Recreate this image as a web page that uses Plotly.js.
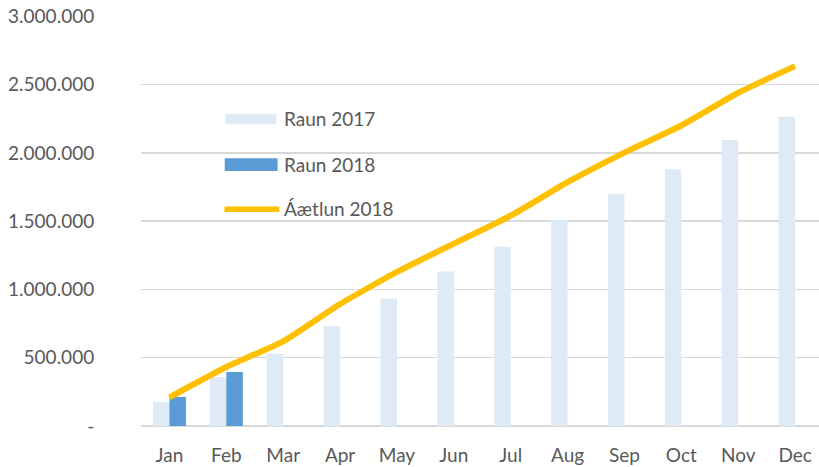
<!DOCTYPE html>
<html>
<head>
<meta charset="utf-8">
<script src="https://cdn.plot.ly/plotly-3.0.1.min.js"></script>
<style>html,body{margin:0;padding:0;background:#fff;}#chart{width:819px;height:467px;}</style>
</head>
<body>
<div id="chart"></div>
<script>
const months = ["Jan","Feb","Mar","Apr","May","Jun","Jul","Aug","Sep","Oct","Nov","Dec"];
const raun2017 = [176000, 358000, 529000, 730000, 932000, 1131000, 1312000, 1506000, 1697000, 1879000, 2094000, 2264000];
const raun2018 = [213000, 395000];
const aaetlun2018 = [210000, 432000, 620000, 893000, 1128000, 1335000, 1540000, 1785000, 2002000, 2200000, 2440000, 2635000];
const seriesNames = ["Raun 2017", "Raun 2018", "Áætlun 2018"];
const yTickVals = [0, 500000, 1000000, 1500000, 2000000, 2500000, 3000000];
const yTickText = ["-", "500.000", "1.000.000", "1.500.000", "2.000.000", "2.500.000", "3.000.000"];

const c2017 = "#DEEAF6", c2018 = "#5B9BD5", cLine = "#FFC000";
const font = {family: "Lato, 'Open Sans', sans-serif", size: 19, color: "#595959"};

const traces = [
  {type: "bar", x: months, y: raun2017, name: seriesNames[0], marker: {color: c2017}, showlegend: false},
  {type: "bar", x: months.slice(0, raun2018.length), y: raun2018, name: seriesNames[1], marker: {color: c2018}, showlegend: false},
  {type: "scatter", mode: "lines", x: months, y: aaetlun2018, name: seriesNames[2],
   line: {color: cLine, width: 6, shape: "spline", smoothing: 0.5}, showlegend: false}
];

const legX0 = 0.1235, legX1 = 0.2015, legTextX = 0.208;
const layout = {
  width: 819, height: 467,
  margin: {l: 140.5, r: 0, t: 16, b: 41},
  paper_bgcolor: "#fff", plot_bgcolor: "#fff",
  font: font,
  barmode: "group", bargap: 0.42, bargroupgap: 0,
  showlegend: false,
  xaxis: {type: "category", range: [-0.5, 11.42], showgrid: false, showline: false, zeroline: false,
          ticks: "outside", ticklen: 12, tickcolor: "rgba(0,0,0,0)", tickfont: font, fixedrange: true},
  yaxis: {range: [0, 3002000], tickvals: yTickVals, ticktext: yTickText, showgrid: true,
          gridcolor: "#D9D9D9", gridwidth: 1.3, zeroline: true, zerolinecolor: "#D9D9D9", zerolinewidth: 1.6,
          showline: false, ticks: "outside", ticklen: 42, tickcolor: "rgba(0,0,0,0)", tickfont: font, fixedrange: true},
  shapes: [
    {type: "rect", xref: "paper", yref: "paper", x0: 0.1245, x1: 0.1997, y0: 0.736, y1: 0.761, fillcolor: c2017, line: {width: 0}},
    {type: "rect", xref: "paper", yref: "paper", x0: legX0, x1: legX1, y0: 0.622, y1: 0.653, fillcolor: c2018, line: {width: 0}},
    {type: "line", xref: "paper", yref: "paper", x0: 0.1231, x1: 0.2041, y0: 0.5285, y1: 0.5285, line: {color: cLine, width: 5.5}}
  ],
  annotations: [
    {xref: "paper", yref: "paper", x: legTextX, y: 0.7512, text: seriesNames[0], showarrow: false, xanchor: "left", yanchor: "middle", font: font},
    {xref: "paper", yref: "paper", x: legTextX, y: 0.6378, text: seriesNames[1], showarrow: false, xanchor: "left", yanchor: "middle", font: font},
    {xref: "paper", yref: "paper", x: legTextX, y: 0.5293, text: seriesNames[2], showarrow: false, xanchor: "left", yanchor: "middle", font: font}
  ]
};

Plotly.newPlot("chart", traces, layout, {displayModeBar: false, staticPlot: true});
</script>
</body>
</html>
